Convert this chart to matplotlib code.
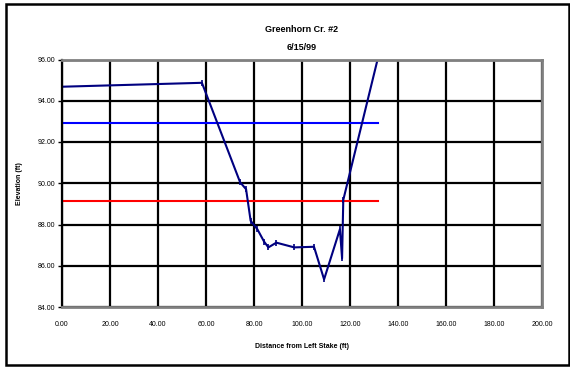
import matplotlib.pyplot as plt
from matplotlib.patches import Rectangle

# cross section survey
distance = [0.0, 58.3, 74.2, 76.7, 78.6, 81.4, 84.2, 86.0, 89.3, 96.8, 105.0,
            109.2, 115.8, 116.7, 117.2, 131.7]
elevation = [94.68, 94.87, 90.05, 89.71, 88.18, 87.77, 87.17, 86.89, 87.12,
             86.89, 86.92, 85.34, 87.77, 86.36, 89.19, 96.10]

# reference levels
level_x = [0.0, 131.5]
bankfull = 92.94
water = 89.14

x_ticks = [0, 20, 40, 60, 80, 100, 120, 140, 160, 180, 200]
y_ticks = [84, 86, 88, 90, 92, 94, 96]

plt.rcParams['font.family'] = ['Liberation Sans', 'DejaVu Sans']

fig = plt.figure(figsize=(5.7, 3.67), dpi=100)
ax = fig.add_axes([62 / 570, 60 / 367, 480 / 570, 247.5 / 367])

ax.set_xlim(0, 200)
ax.set_ylim(84, 96)
ax.set_xticks(x_ticks)
ax.set_yticks(y_ticks)
ax.set_xticklabels([f"{v:.2f}" for v in x_ticks], fontsize=5)
ax.set_yticklabels([f"{v:.2f}" for v in y_ticks], fontsize=5)
ax.tick_params(axis='x', length=0, pad=10)
ax.tick_params(axis='y', length=3, width=1, pad=2)

ax.grid(True, color='black', linewidth=1.6)
ax.set_axisbelow(True)
for side in ['top', 'right', 'bottom']:
    ax.spines[side].set_color('#808080')
    ax.spines[side].set_linewidth(2)
ax.spines['left'].set_color('black')
ax.spines['left'].set_linewidth(1.6)

ax.plot(level_x, [bankfull, bankfull], color='#0000ff', linewidth=1.5)
ax.plot(level_x, [water, water], color='#ff0000', linewidth=1.5)
ax.plot(distance, elevation, color='#000080', linewidth=1.5,
        marker='|', markersize=4, markeredgewidth=1.2)

ax.set_xlabel('Distance from Left Stake (ft)', fontsize=5, fontweight='bold', labelpad=11)
ax.set_ylabel('Elevation (ft)', fontsize=5, fontweight='bold', labelpad=10)
fig.text(302 / 570, 1 - 29 / 367, 'Greenhorn Cr. #2', fontsize=6.5,
         fontweight='bold', ha='center', va='center')
fig.text(302 / 570, 1 - 47 / 367, '6/15/99', fontsize=6.5,
         fontweight='bold', ha='center', va='center')

# outer chart frame
fig.patches.append(Rectangle((6 / 570, 2 / 367), 563 / 570, 361 / 367,
                             transform=fig.transFigure, fill=False,
                             edgecolor='black', linewidth=1.8))

fig.savefig('out.png', dpi=100)
